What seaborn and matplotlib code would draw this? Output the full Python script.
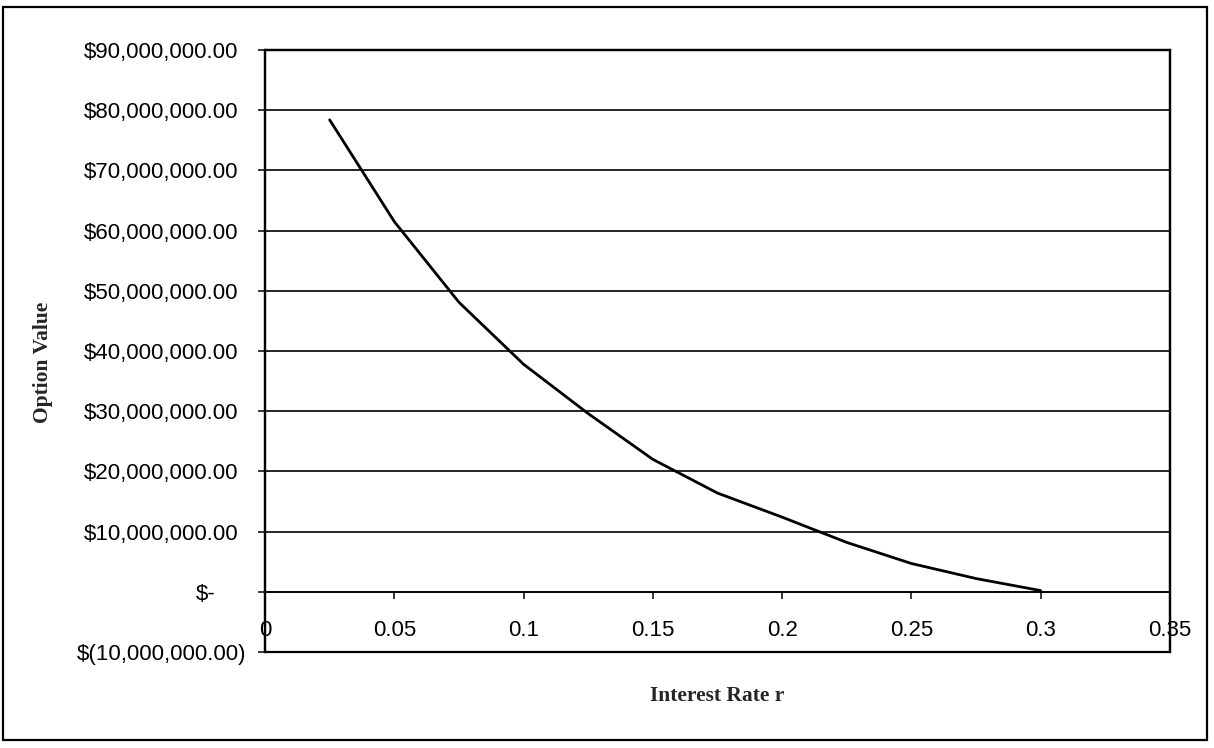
import matplotlib
matplotlib.use("Agg")
import matplotlib.pyplot as plt
import matplotlib.transforms as mtransforms
from matplotlib.patches import Rectangle
import seaborn as sns
import pandas as pd

# ---- data ----
interest_rate = [0.025, 0.05, 0.075, 0.1, 0.125, 0.15, 0.175, 0.2, 0.225, 0.25, 0.275, 0.3]
option_value = [78.4e6, 61.5e6, 48.1e6, 37.8e6, 29.6e6, 22.0e6, 16.4e6, 12.4e6, 8.2e6, 4.7e6, 2.2e6, 0.2e6]
x_ticks = [0, 0.05, 0.1, 0.15, 0.2, 0.25, 0.3, 0.35]
x_tick_labels = ["0", "0.05", "0.1", "0.15", "0.2", "0.25", "0.3", "0.35"]
y_ticks = [-10e6, 0, 10e6, 20e6, 30e6, 40e6, 50e6, 60e6, 70e6, 80e6, 90e6]
y_tick_labels = ["$(10,000,000.00)", "$-", "$10,000,000.00", "$20,000,000.00",
                 "$30,000,000.00", "$40,000,000.00", "$50,000,000.00",
                 "$60,000,000.00", "$70,000,000.00", "$80,000,000.00",
                 "$90,000,000.00"]
x_label = "Interest Rate r"
y_label = "Option Value"

df = pd.DataFrame({"rate": interest_rate, "value": option_value})

sns.set_style("white")
plt.rcParams["font.family"] = ["Liberation Sans", "DejaVu Sans"]

W, H = 1214, 748
fig = plt.figure(figsize=(W / 100, H / 100), dpi=100)
ax = fig.add_axes([265 / W, 1 - 652 / H, (1170 - 265) / W, (652 - 50) / H])

sns.lineplot(data=df, x="rate", y="value", ax=ax, color="black", linewidth=2.0,
             legend=False)

ax.set_xlim(0, 0.35)
ax.set_ylim(-10e6, 90e6)
ax.set_xticks(x_ticks)
ax.set_xticklabels(x_tick_labels)
ax.set_yticks(y_ticks)
ax.set_yticklabels(y_tick_labels)

ax.yaxis.grid(True, color="black", linewidth=1.2)
ax.xaxis.grid(False)

for s in ax.spines.values():
    s.set_color("black")
    s.set_linewidth(1.6)
ax.spines["bottom"].set_position(("data", 0))
ax.spines["bottom"].set_linewidth(1.2)
ax.add_patch(Rectangle((0, 0), 1, 1, transform=ax.transAxes, fill=False,
                       edgecolor="black", linewidth=1.6, clip_on=False, zorder=5))

ax.tick_params(axis="y", direction="out", length=5, width=1.1, pad=8.6,
               labelsize=16, colors="black", left=True)
ax.tick_params(axis="x", direction="out", length=5, width=1.1, pad=15.5,
               labelsize=16, colors="black", bottom=True)

# accounting-format alignment of y labels
for tick in ax.yaxis.get_major_ticks():
    txt = tick.label1.get_text()
    if txt.endswith(")"):
        dx = 0
    elif txt == "$-":
        dx = -31
    else:
        dx = -8
    off = mtransforms.ScaledTranslation(dx / 100, 0, fig.dpi_scale_trans)
    tick.label1.set_transform(tick.label1.get_transform() + off)

ax.set_xlabel(x_label, fontfamily=["Liberation Serif", "DejaVu Serif"],
              fontweight="bold", fontsize=15.5)
ax.set_ylabel(y_label, fontfamily=["Liberation Serif", "DejaVu Serif"],
              fontweight="bold", fontsize=15.5)
ax.xaxis.set_label_coords(0.5, (652 - 686) / 602)
ax.yaxis.set_label_coords((53 - 265) / 905, (652 - 362) / 602)

# outer chart frame
fig.patches.append(Rectangle((3 / W, 1 - 740 / H), (1207 - 3) / W, (740 - 7) / H,
                             transform=fig.transFigure, fill=False,
                             edgecolor="black", linewidth=1.6))

fig.savefig("out.png", dpi=100, facecolor="white")
